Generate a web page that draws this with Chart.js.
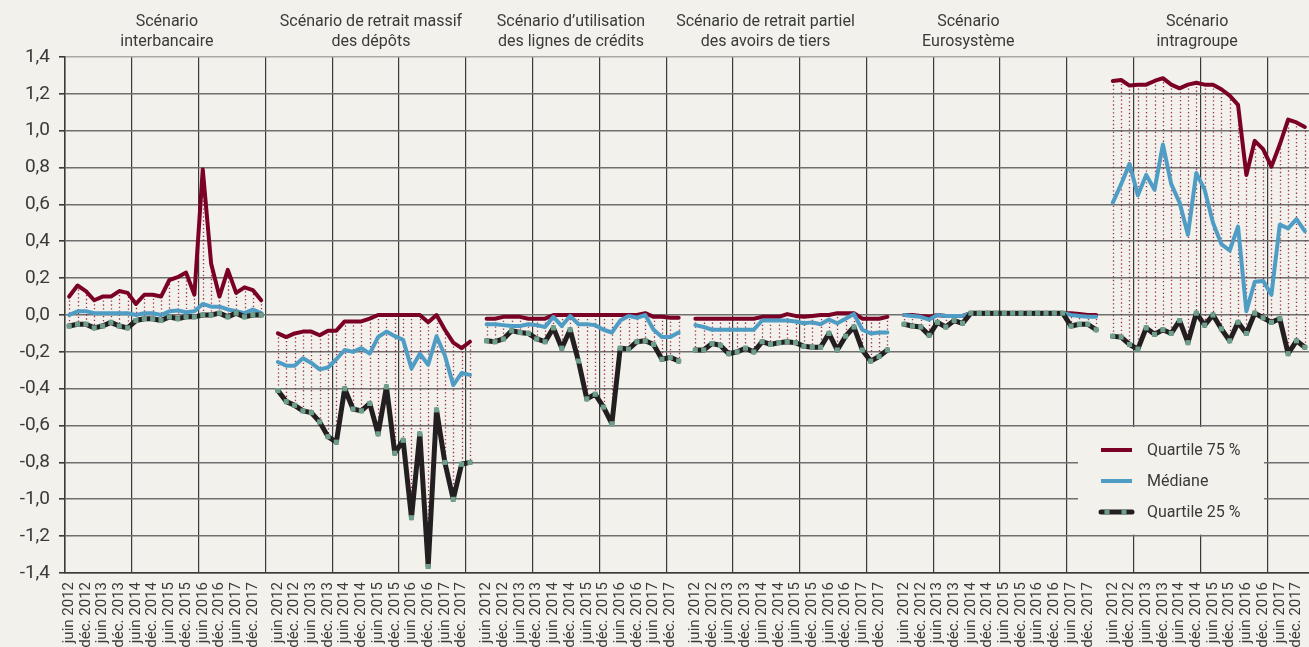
<!DOCTYPE html>
<html lang="fr">
<head>
<meta charset="utf-8">
<title>Scénarios de liquidité</title>
<script src="https://cdn.jsdelivr.net/npm/chart.js@4.4.1/dist/chart.umd.min.js"></script>
<style>
  html, body { margin: 0; padding: 0; overflow: hidden; background: #f2f1eb; }
  #chart { display: block; }
</style>
</head>
<body>
<canvas id="chart" width="1313" height="700"></canvas>
<script>
const tickLabels = [
  "juin 2012", "déc. 2012", "juin 2013", "déc. 2013", "juin 2014", "déc. 2014",
  "juin 2015", "déc. 2015", "juin 2016", "déc. 2016", "juin 2017", "déc. 2017",
];

const panelTitles = [
  ["Scénario", "interbancaire"],
  ["Scénario de retrait massif", "des dépôts"],
  ["Scénario d’utilisation", "des lignes de crédits"],
  ["Scénario de retrait partiel", "des avoirs de tiers"],
  ["Scénario", "Eurosystème"],
  ["Scénario", "intragroupe"],
];
// where each title sits, in categories from the start of its panel
const titleOffsets = [11.7, 11.15, 10.1, 8.4, 7.7, 10.1];

const seriesNames = ["Quartile 75 %", "Médiane", "Quartile 25 %"];

// quarterly values, juin 2012 to mars 2018
const q75Interbancaire = [0.10, 0.16, 0.13, 0.08, 0.10, 0.10, 0.13, 0.12, 0.06, 0.11, 0.11, 0.10, 0.19, 0.205, 0.23, 0.11, 0.79, 0.28, 0.10, 0.245, 0.12, 0.15, 0.135, 0.08];
const medInterbancaire = [0.00, 0.02, 0.02, 0.01, 0.01, 0.01, 0.01, 0.01, 0.00, 0.01, 0.01, 0.00, 0.02, 0.025, 0.015, 0.02, 0.06, 0.045, 0.045, 0.03, 0.02, 0.01, 0.03, 0.01];
const q25Interbancaire = [-0.06, -0.05, -0.05, -0.07, -0.06, -0.04, -0.06, -0.07, -0.03, -0.02, -0.02, -0.03, -0.01, -0.02, -0.01, -0.01, 0.00, 0.00, 0.01, -0.01, 0.01, -0.01, 0.00, 0.00];

const q75Depots = [-0.10, -0.12, -0.10, -0.09, -0.09, -0.11, -0.085, -0.085, -0.035, -0.035, -0.035, -0.02, 0.00, 0.00, 0.00, 0.00, 0.00, 0.00, -0.04, 0.00, -0.08, -0.15, -0.18, -0.145];
const medDepots = [-0.255, -0.275, -0.275, -0.235, -0.26, -0.295, -0.285, -0.24, -0.19, -0.20, -0.18, -0.21, -0.12, -0.09, -0.115, -0.135, -0.29, -0.21, -0.27, -0.115, -0.22, -0.38, -0.315, -0.325];
const q25Depots = [-0.41, -0.47, -0.49, -0.52, -0.53, -0.58, -0.66, -0.69, -0.40, -0.51, -0.52, -0.48, -0.645, -0.39, -0.75, -0.68, -1.10, -0.645, -1.365, -0.515, -0.80, -1.00, -0.81, -0.80];

const q75Credits = [-0.02, -0.02, -0.01, -0.01, -0.01, -0.02, -0.02, -0.02, 0.00, 0.00, 0.00, 0.00, 0.00, 0.00, 0.00, 0.00, 0.00, 0.00, 0.00, 0.01, -0.01, -0.01, -0.015, -0.015];
const medCredits = [-0.05, -0.05, -0.055, -0.06, -0.06, -0.05, -0.055, -0.065, -0.01, -0.06, -0.005, -0.05, -0.05, -0.055, -0.08, -0.095, -0.03, -0.005, -0.015, 0.00, -0.08, -0.12, -0.12, -0.095];
const q25Credits = [-0.14, -0.145, -0.13, -0.085, -0.095, -0.10, -0.13, -0.145, -0.07, -0.18, -0.08, -0.25, -0.455, -0.43, -0.50, -0.59, -0.18, -0.185, -0.145, -0.14, -0.16, -0.24, -0.23, -0.25];

const q75Tiers = [-0.02, -0.02, -0.02, -0.02, -0.02, -0.02, -0.02, -0.02, -0.01, -0.01, -0.01, 0.005, -0.005, -0.01, -0.005, 0.00, 0.00, 0.01, 0.01, 0.01, -0.02, -0.02, -0.02, -0.01];
const medTiers = [-0.055, -0.065, -0.08, -0.08, -0.08, -0.08, -0.08, -0.08, -0.03, -0.03, -0.03, -0.03, -0.035, -0.045, -0.04, -0.05, -0.025, -0.045, -0.02, 0.005, -0.08, -0.10, -0.095, -0.095];
const q25Tiers = [-0.19, -0.19, -0.155, -0.165, -0.21, -0.20, -0.18, -0.20, -0.145, -0.16, -0.15, -0.145, -0.15, -0.17, -0.175, -0.175, -0.10, -0.19, -0.115, -0.065, -0.19, -0.25, -0.225, -0.19];

const q75Eurosysteme = [0.00, 0.00, -0.005, -0.01, 0.00, -0.005, -0.005, -0.005, 0.01, 0.01, 0.01, 0.01, 0.01, 0.01, 0.01, 0.01, 0.01, 0.01, 0.01, 0.01, 0.01, 0.005, 0.00, 0.00];
const medEurosysteme = [0.00, -0.005, -0.01, -0.025, 0.00, -0.005, -0.005, -0.005, 0.01, 0.01, 0.01, 0.01, 0.01, 0.01, 0.01, 0.01, 0.01, 0.01, 0.01, 0.01, 0.00, -0.005, -0.01, -0.01];
const q25Eurosysteme = [-0.05, -0.06, -0.065, -0.11, -0.04, -0.065, -0.03, -0.045, 0.01, 0.01, 0.01, 0.01, 0.01, 0.01, 0.01, 0.01, 0.01, 0.01, 0.01, 0.01, -0.06, -0.05, -0.05, -0.08];

const q75Intragroupe = [1.27, 1.275, 1.245, 1.25, 1.25, 1.27, 1.285, 1.25, 1.23, 1.25, 1.26, 1.25, 1.25, 1.225, 1.19, 1.14, 0.76, 0.945, 0.90, 0.805, 0.925, 1.06, 1.045, 1.02];
const medIntragroupe = [0.61, 0.71, 0.82, 0.65, 0.76, 0.68, 0.925, 0.71, 0.61, 0.435, 0.77, 0.68, 0.50, 0.385, 0.35, 0.48, 0.02, 0.18, 0.185, 0.11, 0.49, 0.47, 0.52, 0.455];
const q25Intragroupe = [-0.115, -0.12, -0.16, -0.185, -0.07, -0.105, -0.08, -0.10, -0.03, -0.15, 0.01, -0.055, 0.00, -0.075, -0.14, -0.04, -0.10, 0.01, -0.015, -0.04, -0.02, -0.21, -0.14, -0.175];

const q75Panels = [q75Interbancaire, q75Depots, q75Credits, q75Tiers, q75Eurosysteme, q75Intragroupe];
const medPanels = [medInterbancaire, medDepots, medCredits, medTiers, medEurosysteme, medIntragroupe];
const q25Panels = [q25Interbancaire, q25Depots, q25Credits, q25Tiers, q25Eurosysteme, q25Intragroupe];

const PANEL_SIZE = 25; // 24 quarters + one empty slot between panels

const joinPanels = (panels) => {
  const out = [];
  panels.forEach((values, p) => {
    if (p > 0) out.push(null);
    out.push(...values);
  });
  return out;
};

const buildLabels = () => {
  const out = [];
  panelTitles.forEach((_, p) => {
    if (p > 0) out.push("");
    for (let i = 0; i < 24; i++) {
      out.push(i % 2 === 0 ? tickLabels[i / 2] : "");
    }
  });
  return out;
};

const COLORS = {
  bg: "#f2f1eb",
  text: "#3a3a3a",
  q75: "#7a0026",
  med: "#4f9cc4",
  q25: "#231f20",
  marker: "#6e9e8c",
  hatch: "rgba(150, 12, 52, 0.85)",
};

const FONT = "Roboto, 'Open Sans', sans-serif";

// dotted verticals between the 75% and 25% quartiles
const hatchPlugin = {
  id: "hatch",
  beforeDatasetsDraw(chart) {
    const top = chart.getDatasetMeta(0).data;
    const bottom = chart.getDatasetMeta(2).data;
    const ctx = chart.ctx;
    ctx.save();
    ctx.strokeStyle = COLORS.hatch;
    ctx.lineWidth = 1.3;
    ctx.setLineDash([1.3, 2.6]);
    top.forEach((pt, i) => {
      const low = bottom[i];
      if (pt.skip || !low || low.skip) return;
      ctx.beginPath();
      ctx.moveTo(Math.round(pt.x) + 0.5, pt.y);
      ctx.lineTo(Math.round(pt.x) + 0.5, low.y);
      ctx.stroke();
    });
    ctx.restore();
  },
};

const titlesPlugin = {
  id: "panelTitles",
  afterDraw(chart) {
    const ctx = chart.ctx;
    const x = chart.scales.x;
    ctx.save();
    ctx.fillStyle = COLORS.text;
    ctx.font = "16px " + FONT;
    ctx.textAlign = "center";
    ctx.textBaseline = "middle";
    panelTitles.forEach((lines, p) => {
      const cx = x.getPixelForValue(p * PANEL_SIZE + titleOffsets[p]);
      ctx.fillText(lines[0], cx, 22);
      ctx.fillText(lines[1], cx, 42);
    });
    ctx.restore();
  },
};

const legendPlugin = {
  id: "boxLegend",
  afterDraw(chart) {
    const ctx = chart.ctx;
    const y = chart.scales.y;
    const boxTop = y.getPixelForValue(-0.6) + 1.5;
    const boxBottom = y.getPixelForValue(-1.2) - 1.5;
    ctx.save();
    ctx.fillStyle = COLORS.bg;
    ctx.fillRect(1078, boxTop, 186, boxBottom - boxTop);

    const rowY = [450, 481, 512];
    const colors = [COLORS.q75, COLORS.med, COLORS.q25];
    ctx.font = "16px " + FONT;
    ctx.textBaseline = "middle";
    seriesNames.forEach((name, i) => {
      ctx.strokeStyle = colors[i];
      ctx.lineWidth = i === 2 ? 5 : 4;
      ctx.lineCap = i === 2 ? "round" : "butt";
      ctx.beginPath();
      ctx.moveTo(1101, rowY[i]);
      ctx.lineTo(1132, rowY[i]);
      ctx.stroke();
      if (i === 2) {
        ctx.fillStyle = COLORS.marker;
        ctx.fillRect(1104.5, rowY[i] - 2.5, 5, 5);
        ctx.fillRect(1121.5, rowY[i] - 2.5, 5, 5);
      }
      ctx.fillStyle = COLORS.text;
      ctx.fillText(name, 1147, rowY[i] + 1);
    });
    ctx.restore();
  },
};

const formatTick = (value) => {
  const v = Math.round(value * 10) / 10;
  return (Math.abs(v) < 1e-9 ? 0 : v).toFixed(1).replace(".", ",");
};

const ctx = document.getElementById("chart");

new Chart(ctx, {
  type: "line",
  data: {
    labels: buildLabels(),
    datasets: [
      {
        label: seriesNames[0],
        data: joinPanels(q75Panels),
        borderColor: COLORS.q75,
        borderWidth: 4,
        pointRadius: 0,
        order: 2,
      },
      {
        label: seriesNames[1],
        data: joinPanels(medPanels),
        borderColor: COLORS.med,
        borderWidth: 4,
        pointRadius: 0,
        order: 1,
      },
      {
        label: seriesNames[2],
        data: joinPanels(q25Panels),
        borderColor: COLORS.q25,
        borderWidth: 5,
        pointStyle: "rect",
        pointRadius: 3.6,
        pointBackgroundColor: COLORS.marker,
        pointBorderWidth: 0,
        order: 0,
      },
    ],
  },
  options: {
    responsive: false,
    animation: false,
    devicePixelRatio: 1,
    layout: { padding: { top: 57, right: 0, bottom: 0, left: 0 } },
    elements: {
      line: { tension: 0, borderJoinStyle: "round", borderCapStyle: "round" },
    },
    plugins: {
      legend: { display: false },
      tooltip: { enabled: false },
    },
    scales: {
      x: {
        offset: true,
        grid: {
          offset: true,
          drawTicks: false,
          lineWidth: 1.2,
          color: (c) => (c.index !== undefined && c.index % 8 === 0 ? "#3a3a3a" : "rgba(0,0,0,0)"),
        },
        border: { display: true, color: "#3a3a3a", width: 1.5 },
        ticks: {
          autoSkip: false,
          minRotation: 90,
          maxRotation: 90,
          padding: 9,
          color: COLORS.text,
          font: { family: FONT, size: 15 },
        },
        afterFit: (scale) => {
          scale.height = 127;
          scale.paddingLeft = 0;
          scale.paddingRight = 0;
        },
      },
      y: {
        min: -1.4,
        max: 1.4,
        ticks: {
          stepSize: 0.2,
          padding: 9,
          color: COLORS.text,
          font: { family: FONT, size: 19 },
          callback: formatTick,
        },
        grid: {
          lineWidth: 1.6,
          tickLength: 6,
          tickColor: "#3a3a3a",
          color: (c) => (c.tick && c.tick.value >= 1.39 ? "#a8a8a4" : "#6f6f6f"),
        },
        border: { display: true, color: "#3a3a3a", width: 1.5 },
        afterFit: (scale) => {
          scale.width = 65;
        },
      },
    },
  },
  plugins: [hatchPlugin, titlesPlugin, legendPlugin],
});
</script>
</body>
</html>
